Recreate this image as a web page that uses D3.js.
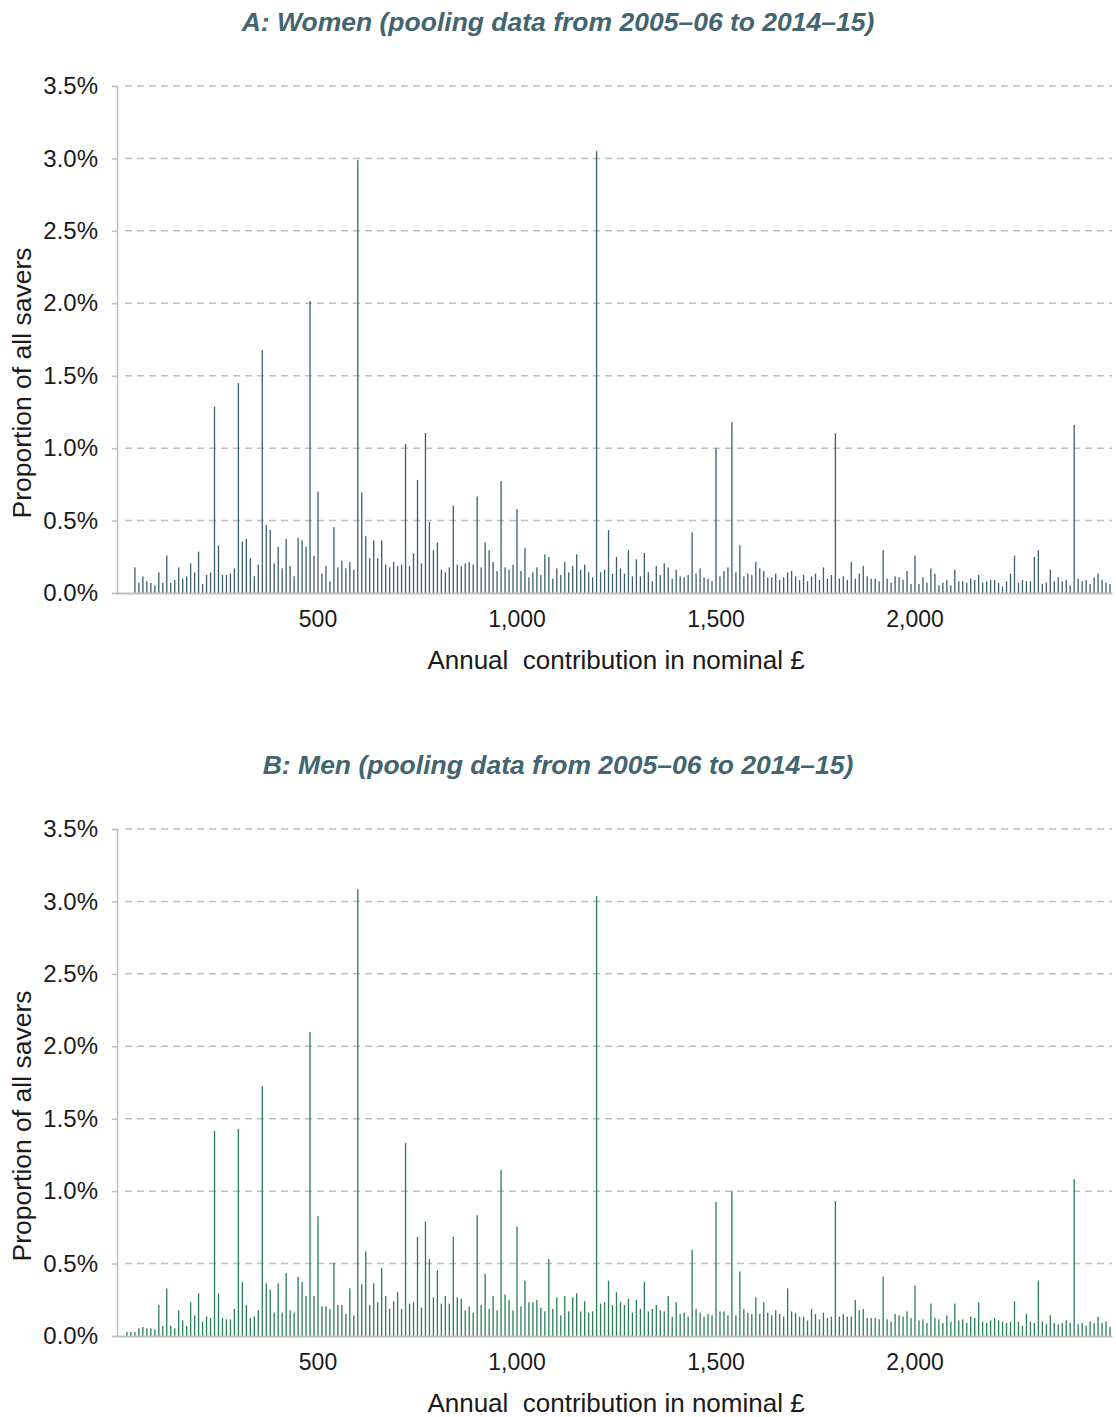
<!DOCTYPE html>
<html><head><meta charset="utf-8">
<script src="https://cdn.jsdelivr.net/npm/d3@7"></script>
<style>body{margin:0;background:#fff;} svg{display:block;}</style>
</head><body>
<svg id="chart" width="1116" height="1417"></svg>
<script>
const categories = d3.range(0, 2500, 10);
const yTicks = [0, 0.5, 1.0, 1.5, 2.0, 2.5, 3.0, 3.5];
const xTicks = [500, 1000, 1500, 2000];
const titles = ["A: Women (pooling data from 2005\u201306 to 2014\u201315)", "B: Men (pooling data from 2005\u201306 to 2014\u201315)"];
const xLabel = "Annual  contribution in nominal \u00a3";
const yLabel = "Proportion of all savers";

const women = [
0,0,0,0,0.177,0.071,0.115,0.081,0.069,0.053,
0.143,0.071,0.258,0.071,0.090,0.177,0.099,0.115,0.205,0.143,
0.286,0.062,0.124,0.143,1.284,0.329,0.124,0.124,0.134,0.170,
1.449,0.355,0.373,0.240,0.115,0.196,1.677,0.470,0.435,0.205,
0.320,0.170,0.373,0.187,0.115,0.382,0.364,0.320,2.015,0.258,
0.700,0.134,0.187,0.081,0.454,0.177,0.224,0.170,0.214,0.161,
2.988,0.694,0.392,0.240,0.364,0.240,0.364,0.196,0.177,0.214,
0.187,0.196,1.028,0.187,0.274,0.781,0.205,1.104,0.491,0.295,
0.348,0.161,0.143,0.177,0.604,0.196,0.187,0.205,0.214,0.196,
0.666,0.177,0.348,0.295,0.214,0.152,0.772,0.177,0.161,0.196,
0.578,0.152,0.311,0.108,0.143,0.177,0.124,0.267,0.249,0.099,
0.170,0.124,0.214,0.143,0.187,0.267,0.161,0.196,0.143,0.108,
3.050,0.143,0.161,0.435,0.134,0.249,0.170,0.134,0.295,0.115,
0.233,0.115,0.276,0.143,0.081,0.187,0.124,0.205,0.177,0.099,
0.161,0.115,0.108,0.124,0.419,0.134,0.170,0.108,0.099,0.081,
1.000,0.115,0.152,0.177,1.180,0.143,0.329,0.115,0.134,0.124,
0.214,0.170,0.152,0.108,0.108,0.134,0.090,0.108,0.143,0.152,
0.115,0.090,0.124,0.081,0.115,0.134,0.090,0.177,0.099,0.124,
1.104,0.099,0.115,0.090,0.214,0.099,0.134,0.187,0.115,0.099,
0.099,0.081,0.295,0.099,0.071,0.115,0.108,0.090,0.152,0.062,
0.258,0.062,0.108,0.071,0.170,0.134,0.053,0.071,0.090,0.053,
0.161,0.081,0.081,0.071,0.099,0.090,0.124,0.071,0.081,0.090,
0.090,0.071,0.044,0.081,0.134,0.258,0.071,0.090,0.081,0.081,
0.249,0.295,0.062,0.071,0.161,0.081,0.108,0.081,0.090,0.053,
1.160,0.099,0.081,0.090,0.062,0.108,0.134,0.090,0.071,0.062
];

const men = [
0,0,0.028,0.028,0.028,0.053,0.062,0.053,0.053,0.044,
0.214,0.071,0.329,0.071,0.053,0.177,0.108,0.071,0.233,0.143,
0.295,0.099,0.134,0.124,1.415,0.295,0.124,0.115,0.115,0.187,
1.429,0.373,0.214,0.124,0.134,0.177,1.725,0.364,0.320,0.161,
0.364,0.161,0.435,0.177,0.161,0.410,0.373,0.276,2.098,0.276,
0.827,0.205,0.205,0.187,0.505,0.214,0.214,0.152,0.329,0.143,
3.085,0.357,0.585,0.214,0.364,0.233,0.470,0.276,0.187,0.240,
0.302,0.187,1.332,0.224,0.233,0.684,0.196,0.790,0.532,0.267,
0.454,0.224,0.276,0.224,0.684,0.267,0.258,0.177,0.205,0.161,
0.834,0.214,0.429,0.187,0.276,0.177,1.146,0.286,0.249,0.177,
0.756,0.205,0.382,0.233,0.233,0.249,0.196,0.170,0.532,0.187,
0.267,0.143,0.276,0.170,0.267,0.295,0.170,0.240,0.161,0.170,
3.037,0.224,0.233,0.382,0.214,0.302,0.233,0.214,0.258,0.161,
0.249,0.187,0.373,0.170,0.187,0.214,0.177,0.170,0.276,0.134,
0.233,0.152,0.161,0.134,0.594,0.187,0.161,0.134,0.152,0.143,
0.925,0.170,0.170,0.143,1.000,0.143,0.445,0.187,0.161,0.152,
0.267,0.152,0.233,0.161,0.143,0.177,0.152,0.134,0.329,0.170,
0.161,0.134,0.134,0.108,0.187,0.152,0.115,0.161,0.124,0.134,
0.932,0.134,0.152,0.134,0.134,0.249,0.177,0.187,0.124,0.124,
0.124,0.115,0.410,0.115,0.099,0.152,0.143,0.134,0.170,0.124,
0.348,0.108,0.115,0.090,0.224,0.124,0.115,0.090,0.143,0.099,
0.224,0.108,0.115,0.090,0.134,0.124,0.233,0.099,0.090,0.108,
0.124,0.108,0.099,0.090,0.099,0.240,0.099,0.071,0.152,0.099,
0.090,0.382,0.099,0.081,0.143,0.090,0.081,0.090,0.108,0.090,
1.083,0.081,0.090,0.071,0.099,0.090,0.134,0.090,0.099,0.062
];

const svg = d3.select("#chart");
const font = "'Liberation Sans', Arial, sans-serif";
const panels = [
  {values: women, title: titles[0], color: "#3e5f68", top: 86, bottom: 593, titleY: 31},
  {values: men, title: titles[1], color: "#2b7d58", top: 829, bottom: 1336, titleY: 774}
];
const left = 117, right = 1112;

panels.forEach(p => {
  const g = svg.append("g");
  const x = d3.scaleBand().domain(categories).range([left, right]);
  const y = d3.scaleLinear().domain([0, 3.5]).range([p.bottom, p.top]);

  g.append("text").attr("x", 558).attr("y", p.titleY)
    .attr("text-anchor", "middle").attr("font-family", font)
    .attr("font-size", 26.5).attr("font-weight", "bold").attr("font-style", "italic")
    .attr("fill", "#436570").text(p.title);

  // gridlines
  g.selectAll("line.grid").data(yTicks.filter(t => t > 0)).join("line")
    .attr("x1", left + 8).attr("x2", right).attr("y1", d => y(d)).attr("y2", d => y(d))
    .attr("stroke", "#bfbfbf").attr("stroke-width", 1.5).attr("stroke-dasharray", "7,5");

  // y axis
  const ya = g.append("g").attr("transform", `translate(${left},0)`)
    .call(d3.axisLeft(y).tickValues(yTicks).tickSize(5).tickPadding(14).tickFormat(d => d.toFixed(1) + "%"));
  ya.select(".domain").attr("stroke", "#bfbfbf").attr("stroke-width", 1.5);
  ya.selectAll(".tick line").attr("stroke", "#bfbfbf").attr("stroke-width", 1.5);
  ya.selectAll(".tick text").attr("font-family", font).attr("font-size", 24).attr("fill", "#1a1a1a");

  // bars
  const bw = 1.3;
  g.selectAll("rect.bar").data(categories.map((c, i) => ({c, v: p.values[i]})).filter(d => d.v > 0)).join("rect")
    .attr("x", d => x(d.c) + x.bandwidth() / 2 - bw / 2)
    .attr("width", bw)
    .attr("y", d => y(d.v))
    .attr("height", d => y(0) - y(d.v))
    .attr("fill", p.color);

  // x axis
  const xa = g.append("g").attr("transform", `translate(0,${p.bottom})`)
    .call(d3.axisBottom(x).tickValues(xTicks).tickSize(0).tickPadding(18).tickFormat(d3.format(",")));
  xa.select(".domain").attr("stroke", "#bfbfbf").attr("stroke-width", 2);
  xa.selectAll(".tick text").attr("font-family", font).attr("font-size", 23).attr("fill", "#1a1a1a");

  g.append("text").attr("x", 616).attr("y", p.bottom + 76)
    .attr("text-anchor", "middle").attr("font-family", font).attr("font-size", 26)
    .attr("fill", "#1a1a1a").style("white-space", "pre").text(xLabel);

  g.append("text").attr("transform", `translate(31,${p.bottom - 210}) rotate(-90)`)
    .attr("text-anchor", "middle").attr("font-family", font).attr("font-size", 26.5)
    .attr("fill", "#1a1a1a").text(yLabel);
});
</script>
</body></html>
